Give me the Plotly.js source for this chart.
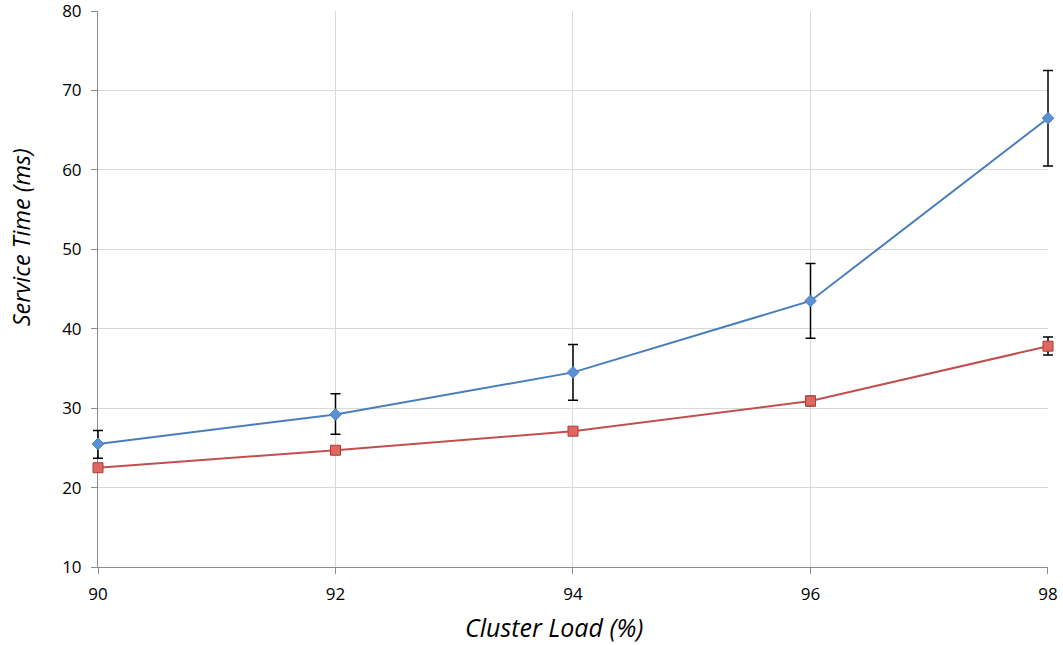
<!DOCTYPE html>
<html>
<head>
<meta charset="utf-8">
<script src="https://cdn.plot.ly/plotly-3.0.1.min.js"></script>
<style>html,body{margin:0;padding:0;background:#fff;}#chart{width:1063px;height:645px;}</style>
</head>
<body>
<div id="chart"></div>
<script>
const clusterLoad = [90, 92, 94, 96, 98];
const blueValues = [25.5, 29.2, 34.5, 43.5, 66.5];
const blueErrPlus = [1.7, 2.6, 3.5, 4.7, 6.0];
const blueErrMinus = [1.8, 2.5, 3.5, 4.7, 6.0];
const redValues = [22.5, 24.7, 27.1, 30.9, 37.8];
const redErrPlus = [0.3, 0.3, 0.3, 0.6, 1.15];
const redErrMinus = [0.3, 0.3, 0.3, 0.6, 1.1];
const xTickVals = [90, 92, 94, 96, 98];
const yTickVals = [10, 20, 30, 40, 50, 60, 70, 80];

const fontFam = '"Open Sans", "DejaVu Sans", sans-serif';

// visible axes use a slightly narrower domain; data drawn on a wider overlay so
// end-point error bars and markers are not clipped at the left/right edges
const plotLeft = 98, plotRight = 1048, figW = 1063, marginR = 3, marginL = 86;
const fullW = figW - marginL - marginR;
const visW = plotRight - plotLeft;
const domStart = (plotLeft - marginL) / fullW;
const domEnd = (plotRight - marginL) / fullW;
const xMin = 90, xMax = 98;
const pxPerUnit = visW / (xMax - xMin);
const x2Min = xMin - (plotLeft - marginL) / pxPerUnit;
const x2Max = xMax + (figW - marginR - plotRight) / pxPerUnit;

const traces = [
  {
    x: clusterLoad, y: redValues, type: 'scatter', mode: 'markers', xaxis: 'x', yaxis: 'y',
    marker: {opacity: 0, size: 1}, hoverinfo: 'skip', showlegend: false
  },
  {
    x: clusterLoad, y: redValues, type: 'scatter', mode: 'lines+markers', xaxis: 'x2', yaxis: 'y2',
    line: {color: '#c0504d', width: 2},
    marker: {symbol: 'square', size: 10, color: '#e06662', line: {color: '#b03a37', width: 1}},
    error_y: {type: 'data', symmetric: false, array: redErrPlus, arrayminus: redErrMinus, color: '#000', thickness: 1.5, width: 5},
    showlegend: false
  },
  {
    x: clusterLoad, y: blueValues, type: 'scatter', mode: 'lines+markers', xaxis: 'x2', yaxis: 'y2',
    line: {color: '#4a7ebb', width: 2},
    marker: {symbol: 'diamond', size: 9, color: '#5b8fd6', line: {color: '#4a7ebb', width: 1}},
    error_y: {type: 'data', symmetric: false, array: blueErrPlus, arrayminus: blueErrMinus, color: '#000', thickness: 1.5, width: 5},
    showlegend: false
  }
];

const layout = {
  width: figW, height: 645,
  margin: {l: marginL, r: marginR, t: 11, b: 78},
  paper_bgcolor: '#fff', plot_bgcolor: 'rgba(0,0,0,0)',
  font: {family: fontFam, color: '#000', size: 17},
  xaxis: {
    domain: [domStart, domEnd], anchor: 'y',
    range: [xMin, xMax + 0.0001], tickvals: xTickVals, ticktext: xTickVals.map(String),
    showgrid: true, gridcolor: '#d9d9d9', gridwidth: 1,
    showline: true, linecolor: '#8c8c8c', linewidth: 1,
    ticks: 'outside', ticklen: 6, tickcolor: '#8c8c8c', ticklabelstandoff: 6,
    ticklabeloverflow: 'allow',
    tickfont: {size: 17, family: fontFam}, zeroline: false
  },
  yaxis: {
    domain: [0, 1], anchor: 'x',
    range: [10, 80.001], tickvals: yTickVals, ticktext: yTickVals.map(String),
    showgrid: true, gridcolor: '#d9d9d9', gridwidth: 1,
    showline: true, linecolor: '#8c8c8c', linewidth: 1,
    ticks: 'outside', ticklen: 6, tickcolor: '#8c8c8c', ticklabelstandoff: 6,
    ticklabeloverflow: 'allow',
    tickfont: {size: 17, family: fontFam}, zeroline: false
  },
  xaxis2: {
    domain: [0, 1], anchor: 'y2', range: [x2Min, x2Max], visible: false,
    showgrid: false, zeroline: false
  },
  yaxis2: {
    domain: [0, 1], anchor: 'x2', range: [10, 80.001], visible: false,
    showgrid: false, zeroline: false
  },
  annotations: [
    {text: 'Cluster Load (%)', xref: 'paper', yref: 'paper', x: (554 - marginL) / fullW, y: 0, yshift: -60,
     xanchor: 'center', yanchor: 'middle', showarrow: false,
     font: {size: 25, family: fontFam, style: 'italic'}},
    {text: 'Service Time (ms)', xref: 'paper', yref: 'paper', x: (21 - marginL) / fullW, y: 0.593,
     xanchor: 'center', yanchor: 'middle', showarrow: false, textangle: -90,
     font: {size: 23.5, family: fontFam, style: 'italic'}}
  ]
};

Plotly.newPlot('chart', traces, layout, {displayModeBar: false, staticPlot: true});
</script>
</body>
</html>
